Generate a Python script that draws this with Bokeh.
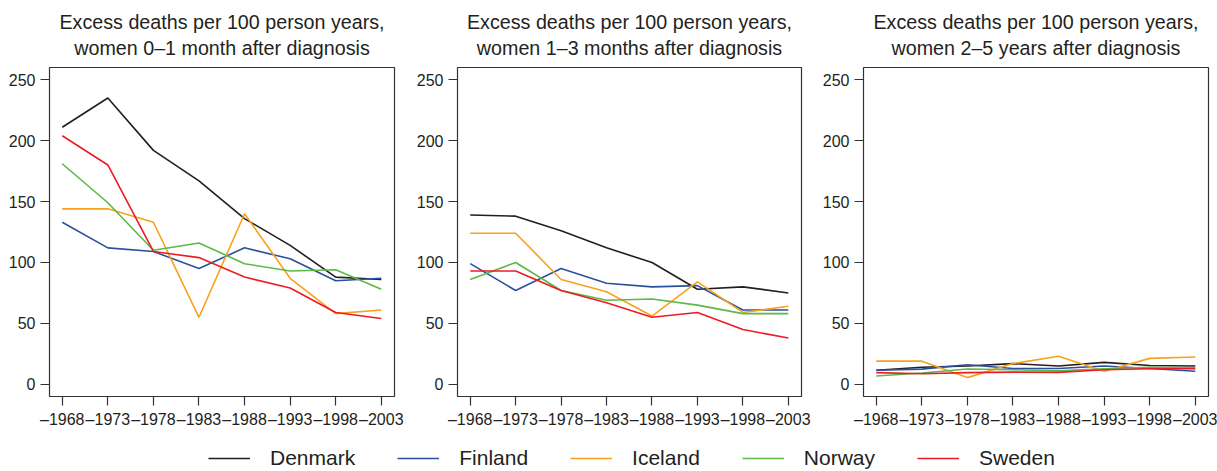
from bokeh.plotting import figure
from bokeh.models import FixedTicker, Range1d, Title, Legend, LegendItem
from bokeh.layouts import row, column
from bokeh.embed import file_html
from bokeh.resources import INLINE

# ---------------- data ----------------
years = [1968, 1973, 1978, 1983, 1988, 1993, 1998, 2003]
year_labels = ["–1968", "–1973", "–1978", "–1983", "–1988", "–1993", "–1998", "–2003"]
y_ticks = [0, 50, 100, 150, 200, 250]

countries = ["Denmark", "Finland", "Iceland", "Norway", "Sweden"]
colors = ["#231f20", "#2b50a0", "#f9a11b", "#5cb947", "#ed1c24"]

titles = [
    ("Excess deaths per 100 person years,", "women 0–1 month after diagnosis"),
    ("Excess deaths per 100 person years,", "women 1–3 months after diagnosis"),
    ("Excess deaths per 100 person years,", "women 2–5 years after diagnosis"),
]

# 0-1 month after diagnosis
denmark_0_1m = [211, 235, 192, 167, 136, 114, 88, 86]
finland_0_1m = [133, 112, 109, 95, 112, 103, 85, 87]
iceland_0_1m = [144, 144, 133, 55, 140, 87, 58, 61]
norway_0_1m = [181, 149, 110, 116, 99, 93, 94, 78]
sweden_0_1m = [204, 180, 109, 104, 88, 79, 59, 54]

# 1-3 months after diagnosis
denmark_1_3m = [139, 138, 126, 112, 100, 78, 80, 75]
finland_1_3m = [99, 77, 95, 83, 80, 81, 61, 61]
iceland_1_3m = [124, 124, 86, 76, 56, 84, 59, 64]
norway_1_3m = [86, 100, 77, 69, 70, 65, 58, 58]
sweden_1_3m = [93, 93, 77, 67, 55, 59, 45, 38]

# 2-5 years after diagnosis
denmark_2_5y = [11.5, 14, 15, 17, 15, 18, 15.5, 15]
finland_2_5y = [11.5, 12.5, 16, 13, 13, 15, 13, 10.7]
iceland_2_5y = [19, 19, 5.5, 17, 23, 10.7, 21.3, 22.4]
norway_2_5y = [6.8, 9.3, 12.6, 12, 11, 12.8, 14, 13.6]
sweden_2_5y = [9.6, 8.7, 9.6, 10, 9.8, 12, 12.8, 12.8]

panels = [
    [denmark_0_1m, finland_0_1m, iceland_0_1m, norway_0_1m, sweden_0_1m],
    [denmark_1_3m, finland_1_3m, iceland_1_3m, norway_1_3m, sweden_1_3m],
    [denmark_2_5y, finland_2_5y, iceland_2_5y, norway_2_5y, sweden_2_5y],
]

# ---------------- styling ----------------
FONT = "Liberation Sans"
TXT = "#231f20"
AX = "#333333"
LW = 1.6

def make_panel(title_lines, series, min_left, frame_w, min_right):
    p = figure(frame_width=frame_w, frame_height=329,
               x_range=Range1d(1966.6, 2004.45), y_range=Range1d(-10, 260),
               output_backend="svg", toolbar_location=None,
               min_border_left=min_left, min_border_right=min_right,
               min_border_top=67, min_border_bottom=32,
               background_fill_color="white", border_fill_color="white")
    p.grid.visible = False
    p.outline_line_color = AX
    p.outline_line_width = 1.2
    p.outline_line_alpha = 1.0

    t = Title(text=title_lines[0] + "\n" + title_lines[1], align="center",
              text_align="center", text_font=FONT, text_font_size="19.7px",
              text_font_style="normal", text_line_height=1.22,
              text_color=TXT, standoff=16)
    p.add_layout(t, "above")

    for ax in (p.xaxis[0], p.yaxis[0]):
        ax.axis_line_color = None
        ax.major_tick_line_color = AX
        ax.major_tick_line_width = 1.2
        ax.major_tick_in = 0
        ax.major_tick_out = 9
        ax.minor_tick_line_color = None
        ax.major_label_text_font = FONT
        ax.major_label_text_font_size = "16px"
        ax.major_label_text_color = TXT
        ax.major_label_standoff = 5

    p.xaxis.ticker = FixedTicker(ticks=years)
    p.xaxis.major_label_overrides = {y: lab for y, lab in zip(years, year_labels)}
    p.yaxis.ticker = FixedTicker(ticks=y_ticks)

    for vals, col in zip(series, colors):
        p.line(years, vals, line_color=col, line_width=LW)
    return p

p1 = make_panel(titles[0], panels[0], 49, 345, 14)
p2 = make_panel(titles[1], panels[1], 49, 344, 14)
p3 = make_panel(titles[2], panels[2], 48, 345, 9)

# legend strip
leg = figure(width=1217, height=42, x_range=Range1d(0, 1), y_range=Range1d(0, 1),
             x_axis_type=None, y_axis_type=None, output_backend="svg",
             toolbar_location=None, min_border=0, outline_line_color=None,
             background_fill_color="white", border_fill_color="white")
leg.grid.visible = False
items = []
for name, col in zip(countries, colors):
    # a tiny off-screen segment, only so that the legend has a line to show
    r = leg.line(x=[-5, -4], y=[-5, -5], line_color=col, line_width=LW)
    items.append(LegendItem(label=name, renderers=[r]))
legend = Legend(items=items, orientation="horizontal", location=(208, 2),
                glyph_width=42, glyph_height=20, label_standoff=20, spacing=42,
                padding=0, margin=0, border_line_color=None,
                background_fill_alpha=0, label_text_font=FONT,
                label_text_font_size="21px", label_text_color=TXT)
leg.add_layout(legend, "center")

layout = column(row(p1, p2, p3), leg)

open("out.html", "w").write(file_html(layout, INLINE))
